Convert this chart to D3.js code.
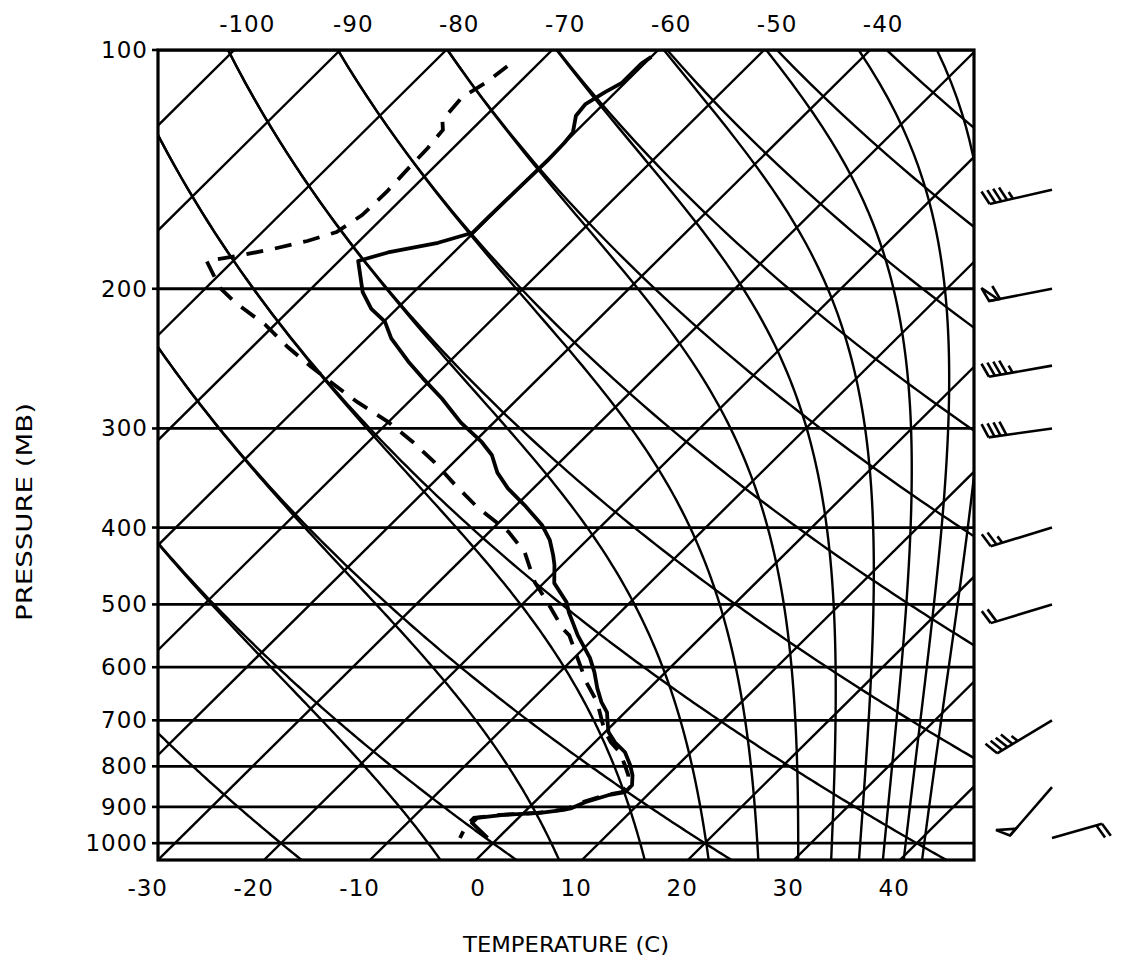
<!DOCTYPE html>
<html>
<head>
<meta charset="utf-8">
<script src="https://cdn.jsdelivr.net/npm/d3@7"></script>
<style>
body { margin: 0; background: #fff; }
text { font-family: "DejaVu Sans", sans-serif; fill: #000; }
</style>
</head>
<body>
<svg width="1121" height="971"></svg>
<script>
// ---- chart data ----
var isobars = [100, 200, 300, 400, 500, 600, 700, 800, 900, 1000];
var bottomTicks = [-30, -20, -10, 0, 10, 20, 30, 40];
var topTicks = [-100, -90, -80, -70, -60, -50, -40];
var isotherms = [-170, -160, -150, -140, -130, -120, -110, -100, -90, -80, -70, -60, -50, -40, -30, -20, -10, 0, 10, 20, 30, 40];
// dry adiabats, theta in K
var dryThetas = [253.15, 273.15, 293.15, 313.15, 333.15, 353.15, 373.15, 393.15, 413.15, 433.15, 453.15, 473.15];
// saturated adiabats, theta-e in K
var moistThetas = [273.15, 293.15, 313.15, 333.15, 353.15, 373.15, 393.15, 413.15, 433.15, 453.15, 473.15];

// temperature sounding (mb, C)
var tempP = [102, 104, 110, 113, 117, 121, 127, 131, 138, 148, 163, 170, 175, 180, 184.5, 202, 212, 220, 231, 247, 259, 275, 295, 312, 324, 341, 357, 375, 397, 415, 433, 446, 470, 497, 512, 547, 584, 609, 638, 664, 684, 704, 724, 746, 768, 797, 821, 845, 862, 870, 888, 903, 908, 916, 921, 929, 943, 985];
var tempT = [-60, -60.3, -60.3, -61.0, -61.7, -61.5, -60.2, -60.0, -59.9, -60.0, -60.1, -60.1, -62.4, -66.2, -68.2, -64.8, -62.4, -59.9, -57.7, -53.9, -51.0, -47.2, -43.1, -39.3, -37.1, -34.9, -32.4, -29.2, -25.7, -23.5, -21.8, -20.7, -19.0, -16.0, -14.8, -11.8, -8.5, -6.7, -4.9, -3.2, -1.7, -0.7, 0.3, 1.9, 3.8, 5.5, 6.7, 7.6, 7.6, 6.3, 4.8, 4.1, 3.5, 1.6, -1.7, -3.9, -3.9, -1.0];

// dewpoint sounding (mb, C)
var dewP = [104.8, 109.7, 114.6, 122.5, 126.1, 132.9, 140.5, 151, 161.5, 169.6, 174.1, 178.2, 181.3, 184.5, 193.4, 200, 208, 222, 237, 251, 264.5, 278, 294.5, 312, 331, 353.5, 377, 405, 430, 469, 497, 536, 547, 627, 664, 704, 724, 746, 768, 797, 821, 845, 862, 870, 888, 903, 908, 916, 921, 929, 943, 962, 985];
var dewT = [-72.7, -73.1, -74.0, -73.7, -72.7, -72.4, -72.3, -72.1, -72.2, -73.0, -74.9, -77.4, -79.7, -82.5, -80.2, -78.5, -75.9, -70.9, -66.6, -62.5, -58.6, -54.8, -50.0, -45.8, -41.8, -37.7, -33.5, -28.2, -24.7, -20.9, -17.8, -13.9, -12.6, -6.5, -3.6, -1.2, 0.0, 1.5, 3.3, 5.0, 6.3, 7.2, 7.3, 6.0, 4.5, 3.8, 3.2, 1.3, -2.0, -4.2, -4.2, -4.0, -3.6];

// winds (mb, direction deg, speed kt)
var windP = [150, 200, 250, 300, 400, 500, 700, 850, 985];
var windDir = [257, 259, 260, 262, 253, 253, 239, 221, 74];
var windSpd = [45, 60, 45, 40, 25, 20, 45, 50, 20];

// ---- layout ----
var svg = d3.select("svg"),
    plotL = 158, plotR = 974, plotT = 50, plotB = 860;

var y = d3.scaleLog().domain([100, 1050]).range([plotT, plotB]);
// temperature along the bottom edge (1050 mb)
var x = d3.scaleLinear().domain([-30, 47]).range([plotL, plotR]);
var skew = 1.01;
function px(T, p) { return x(T) + skew * (plotB - y(p)); }

svg.append("clipPath").attr("id", "plot")
  .append("rect").attr("x", plotL).attr("y", plotT).attr("width", plotR - plotL).attr("height", plotB - plotT);

var g = svg.append("g").attr("clip-path", "url(#plot)");
var line = d3.line().x(function(d) { return px(d[1], d[0]); }).y(function(d) { return y(d[0]); });
var pres = d3.range(100, 1051, 5);
var gridW = 2.4;

// isotherms
g.selectAll(".iso")
  .data(isotherms)
  .enter().append("path")
    .attr("class", "iso")
    .attr("d", function(T) { return line([[100, T], [1050, T]]); })
    .attr("fill", "none").attr("stroke", "#000").attr("stroke-width", gridW);

// dry adiabats
g.selectAll(".dry")
  .data(dryThetas)
  .enter().append("path")
    .attr("d", function(th) {
      return line(pres.map(function(p) { return [p, th * Math.pow(p / 1000, 0.2857) - 273.15]; }));
    })
    .attr("fill", "none").attr("stroke", "#000").attr("stroke-width", gridW);

// saturated adiabats
function thetaE(Tk, p) {
  var tc = Tk - 273.15;
  var es = 6.112 * Math.exp(17.67 * tc / (tc + 243.5));
  if (es > 0.8 * p) return Infinity;
  var rs = 0.622 * es / (p - es);
  return Tk * Math.pow(1000 / p, 0.2857) * Math.exp(2.5e6 * rs / (1004 * Tk));
}
function moistT(te, p) {
  var lo = 120, hi = 340;
  for (var i = 0; i < 50; i++) {
    var mid = (lo + hi) / 2;
    if (thetaE(mid, p) > te) hi = mid; else lo = mid;
  }
  return lo - 273.15;
}
g.selectAll(".moist")
  .data(moistThetas)
  .enter().append("path")
    .attr("d", function(te) {
      return line(pres.map(function(p) { return [p, moistT(te, p)]; }));
    })
    .attr("fill", "none").attr("stroke", "#000").attr("stroke-width", gridW);

// isobars
g.selectAll(".isobar")
  .data(isobars)
  .enter().append("line")
    .attr("x1", plotL).attr("x2", plotR)
    .attr("y1", function(p) { return y(p); }).attr("y2", function(p) { return y(p); })
    .attr("stroke", "#000").attr("stroke-width", 2.8);

// soundings
g.append("path")
  .datum(tempP.map(function(p, i) { return [p, tempT[i]]; }))
  .attr("d", line)
  .attr("fill", "none").attr("stroke", "#000").attr("stroke-width", 3.8).attr("stroke-linejoin", "round");

g.append("path")
  .datum(dewP.map(function(p, i) { return [p, dewT[i]]; }))
  .attr("d", line)
  .attr("fill", "none").attr("stroke", "#000").attr("stroke-width", 3.8)
  .attr("stroke-dasharray", "17,12");

// frame
svg.append("rect")
  .attr("x", plotL).attr("y", plotT).attr("width", plotR - plotL).attr("height", plotB - plotT)
  .attr("fill", "none").attr("stroke", "#000").attr("stroke-width", 3.2);

// pressure axis
svg.selectAll(".ptick")
  .data(isobars)
  .enter().append("line")
    .attr("x1", plotL - 6).attr("x2", plotL)
    .attr("y1", function(p) { return y(p); }).attr("y2", function(p) { return y(p); })
    .attr("stroke", "#000").attr("stroke-width", 2.6);

svg.selectAll(".plab")
  .data(isobars)
  .enter().append("text")
    .attr("x", 148).attr("y", function(p) { return y(p) + 8; })
    .attr("text-anchor", "end")
    .style("font-size", "23px").style("letter-spacing", "1px")
    .text(function(p) { return p; });

svg.selectAll(".blab")
  .data(bottomTicks)
  .enter().append("text")
    .attr("x", function(T) { return px(T, 1050) + 10; }).attr("y", 896)
    .attr("text-anchor", "end")
    .style("font-size", "23px").style("letter-spacing", "1px")
    .text(function(T) { return T; });

svg.selectAll(".tlab")
  .data(topTicks)
  .enter().append("text")
    .attr("x", function(T) { return px(T, 100) + 13; }).attr("y", 32)
    .attr("text-anchor", "middle")
    .style("font-size", "23px").style("letter-spacing", "1px")
    .text(function(T) { return T; });

svg.append("text")
  .attr("transform", "translate(32,512) rotate(-90)")
  .attr("text-anchor", "middle")
  .style("font-size", "21px")
  .attr("textLength", 218).attr("lengthAdjust", "spacingAndGlyphs")
  .text("PRESSURE (MB)");

svg.append("text")
  .attr("x", 566).attr("y", 952)
  .attr("text-anchor", "middle")
  .style("font-size", "21px")
  .attr("textLength", 206).attr("lengthAdjust", "spacingAndGlyphs")
  .text("TEMPERATURE (C)");

// wind barbs
var bx = 1052;
function barb(p, dir, spd, L) {
  var r = dir * Math.PI / 180, ux = Math.sin(r), uy = -Math.cos(r);
  var x0 = bx, y0 = y(p);
  var a = 70 * Math.PI / 180, c = Math.cos(a), s = Math.sin(a);
  var fx = ux * c - uy * s, fy = ux * s + uy * c;
  var b = svg.append("g").attr("stroke", "#000").attr("stroke-width", 2.6).attr("fill", "#000");
  b.append("line").attr("x1", x0).attr("y1", y0).attr("x2", x0 + ux * L).attr("y2", y0 + uy * L);
  var pos = L, rem = spd;
  while (rem >= 50) {
    b.append("path").attr("d", d3.line()([
      [x0 + ux * pos, y0 + uy * pos],
      [x0 + ux * pos + fx * 15, y0 + uy * pos + fy * 15],
      [x0 + ux * (pos - 9), y0 + uy * (pos - 9)]
    ]) + "Z").attr("fill", "none");
    pos -= 11; rem -= 50;
  }
  while (rem >= 10) {
    b.append("line")
      .attr("x1", x0 + ux * pos).attr("y1", y0 + uy * pos)
      .attr("x2", x0 + ux * pos + fx * 15).attr("y2", y0 + uy * pos + fy * 15);
    pos -= 6; rem -= 10;
  }
  if (rem >= 5) {
    b.append("line")
      .attr("x1", x0 + ux * pos).attr("y1", y0 + uy * pos)
      .attr("x2", x0 + ux * pos + fx * 8).attr("y2", y0 + uy * pos + fy * 8);
  }
}
windP.forEach(function(p, i) { barb(p, windDir[i], windSpd[i], i === windP.length - 1 ? 52 : 64); });
</script>
</body>
</html>
